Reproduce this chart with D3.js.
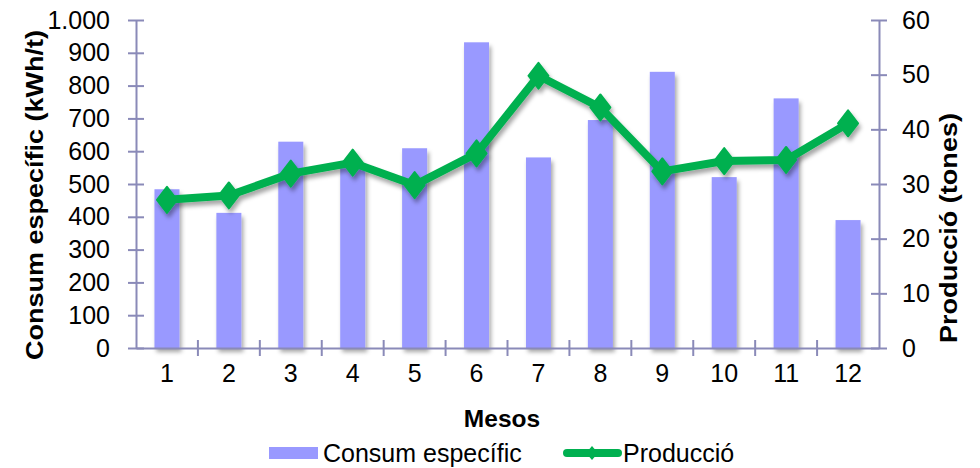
<!DOCTYPE html>
<html>
<head>
<meta charset="utf-8">
<script src="https://cdn.jsdelivr.net/npm/d3@7"></script>
<style>
  html, body { margin: 0; padding: 0; background: #fff; }
  svg { display: block; font-family: "Liberation Sans", Arial, sans-serif; }
</style>
</head>
<body>
<svg id="chart" width="980" height="468"></svg>
<script>
// Monthly data
const months = ["1", "2", "3", "4", "5", "6", "7", "8", "9", "10", "11", "12"];
const consum = [484, 412, 629, 550, 609, 932, 581, 695, 842, 521, 761, 390];      // kWh/t
const produccio = [27.1, 27.9, 31.9, 33.9, 29.8, 35.6, 49.8, 44.0, 32.3, 34.2, 34.4, 41.1]; // tones
const leftTicks = [0, 100, 200, 300, 400, 500, 600, 700, 800, 900, 1000];
const rightTicks = [0, 10, 20, 30, 40, 50, 60];

const svg = d3.select("#chart");
const plotLeft = 136, plotRight = 879, plotTop = 20, plotBottom = 348;
const axisColor = "#8a8ab8";
const barColor = "#9999ff";
const lineColor = "#00b050";

const defs = svg.append("defs");
const sh = defs.append("filter").attr("id", "shadow")
  .attr("x", "-20%").attr("y", "-20%").attr("width", "140%").attr("height", "140%");
sh.append("feDropShadow").attr("dx", 2).attr("dy", 4).attr("stdDeviation", 2)
  .attr("flood-color", "#000").attr("flood-opacity", 0.35);

const xb = d3.scaleBand().domain(months).range([plotLeft, plotRight]);
const yL = d3.scaleLinear().domain([0, 1000]).range([plotBottom, plotTop]);
const yR = d3.scaleLinear().domain([0, 60]).range([plotBottom, plotTop]);
const cx = m => xb(m) + xb.bandwidth() / 2;

// Bars
svg.append("g").attr("filter", "url(#shadow)")
  .selectAll("rect").data(consum).join("rect")
  .attr("x", (d, i) => cx(months[i]) - 12.5)
  .attr("width", 25)
  .attr("y", d => yL(d))
  .attr("height", d => plotBottom - yL(d))
  .attr("fill", barColor);

// Axes
const fmt = d => d === 1000 ? "1.000" : String(d);
const gL = svg.append("g").attr("transform", `translate(${plotLeft},0)`)
  .call(d3.axisLeft(yL).tickValues(leftTicks).tickFormat(fmt).tickSizeInner(8).tickSizeOuter(0).tickPadding(18));
const gR = svg.append("g").attr("transform", `translate(${plotRight},0)`)
  .call(d3.axisRight(yR).tickValues(rightTicks).tickSizeInner(8).tickSizeOuter(0).tickPadding(15));
const gX = svg.append("g").attr("transform", `translate(0,${plotBottom})`)
  .call(d3.axisBottom(xb).tickSize(0).tickPadding(16));

[gL, gR, gX].forEach(g => {
  g.select(".domain").attr("stroke", axisColor).attr("stroke-width", 2);
  g.selectAll(".tick line").attr("stroke", axisColor).attr("stroke-width", 2);
  g.selectAll("text").attr("fill", "#000").style("font-size", "25px");
});
// value-axis ticks cross the axis line
gL.selectAll(".tick line").attr("x1", 8);
gR.selectAll(".tick line").attr("x1", -8);
// category boundary ticks
svg.append("g").selectAll("line").data(months.slice(1)).join("line")
  .attr("x1", d => xb(d)).attr("x2", d => xb(d))
  .attr("y1", plotBottom - 8).attr("y2", plotBottom + 8)
  .attr("stroke", axisColor).attr("stroke-width", 2);

// Line with diamond markers
const line = d3.line()
  .x((d, i) => cx(months[i]))
  .y(d => yR(d));
const gLine = svg.append("g").attr("filter", "url(#shadow)");
gLine.append("path").datum(produccio)
  .attr("d", line).attr("fill", "none")
  .attr("stroke", lineColor).attr("stroke-width", 8)
  .attr("stroke-linejoin", "round").attr("stroke-linecap", "round");
gLine.selectAll("path.marker").data(produccio).join("path")
  .attr("class", "marker")
  .attr("transform", (d, i) => `translate(${cx(months[i])},${yR(d)})`)
  .attr("d", "M0,-13L10,0L0,13L-10,0Z")
  .attr("fill", lineColor).attr("stroke", lineColor).attr("stroke-width", 2)
  .attr("stroke-linejoin", "round");

// Axis titles
svg.append("text").attr("transform", `translate(43,195) rotate(-90)`)
  .attr("text-anchor", "middle").style("font-size", "24px").style("font-weight", "bold")
  .attr("textLength", 330).attr("lengthAdjust", "spacingAndGlyphs")
  .text("Consum específic (kWh/t)");
svg.append("text").attr("transform", `translate(957,228) rotate(-90)`)
  .attr("text-anchor", "middle").style("font-size", "24px").style("font-weight", "bold")
  .attr("textLength", 230).attr("lengthAdjust", "spacingAndGlyphs")
  .text("Producció (tones)");
svg.append("text").attr("x", 502).attr("y", 427)
  .attr("text-anchor", "middle").style("font-size", "24.5px").style("font-weight", "bold")
  .text("Mesos");

// Legend
const lg = svg.append("g");
lg.append("rect").attr("x", 269).attr("y", 447).attr("width", 49).attr("height", 12).attr("fill", barColor);
lg.append("text").attr("x", 323).attr("y", 462).style("font-size", "25px").text("Consum específic");
lg.append("line").attr("x1", 567).attr("x2", 618).attr("y1", 453).attr("y2", 453)
  .attr("stroke", lineColor).attr("stroke-width", 8).attr("stroke-linecap", "round");
lg.append("path").attr("transform", "translate(592,453)").attr("d", "M0,-7L6,0L0,7L-6,0Z").attr("fill", lineColor);
lg.append("text").attr("x", 623).attr("y", 462).style("font-size", "25px").text("Producció");
</script>
</body>
</html>
